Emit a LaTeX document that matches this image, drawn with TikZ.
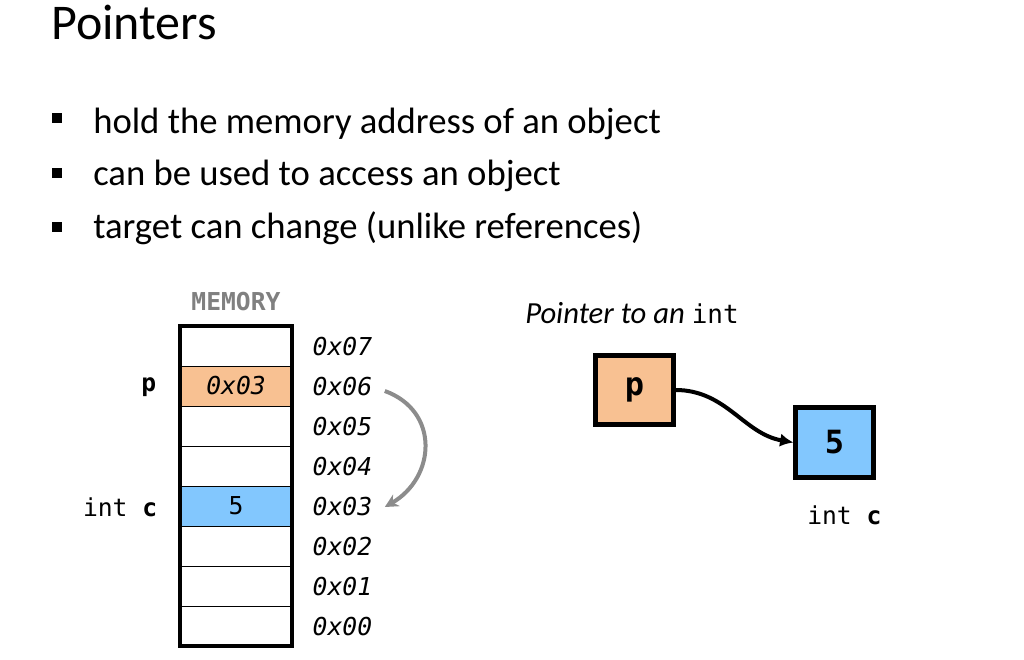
\documentclass[tikz,border=0pt]{standalone}
\usepackage{fontspec}
\setmainfont{Carlito}
\setmonofont{DejaVu Sans Mono}
\usetikzlibrary{arrows.meta}

\definecolor{ptrfill}{HTML}{F8C192}
\definecolor{intfill}{HTML}{82C7FE}

\begin{document}
\begin{tikzpicture}[%
    x=0.75pt, y=0.75pt,
    cell/.style={
        draw,
        line width=0.7pt,
        rectangle,
        minimum width=84pt,
        minimum height=30pt,
        inner sep=0pt,
        font=\ttfamily\fontsize{18.5}{18}\selectfont
        },
    addr/.style={anchor=west, font=\ttfamily\itshape\fontsize{18.5}{18}\selectfont},
    varname/.style={anchor=east, font=\ttfamily\fontsize{18.5}{18}\selectfont},
    bigbox/.style={
        draw,
        line width=3.6pt,
        rectangle,
        minimum width=58pt,
        minimum height=52pt,
        font=\ttfamily\bfseries\fontsize{24}{24}\selectfont},
    bulletline/.style={anchor=base west, font=\fontsize{27.5}{30}\selectfont},
    bulletsq/.style={fill=black, minimum size=7.5pt, inner sep=0pt},
]

\useasboundingbox (0,0) rectangle (1024,-660);

% title and bullets
\node[anchor=base west, inner sep=0pt, font=\fontsize{37.5}{40}\selectfont] (title) at (51,-40) {Pointers};
\foreach \txt [count=\i from 0] in {hold the memory address of an object,
                                     can be used to access an object,
                                     target can change (unlike references)}{
    \node[bulletsq] (b\i) at (57,-118-54.5*\i) {};
    \node[bulletline, inner sep=0pt] (t\i) at (93,-133-52.5*\i) {\txt};
}

% memory column
\node[font=\ttfamily\bfseries\fontsize{18.5}{18}\selectfont, text=black!50] (memlabel) at (236,-302) {MEMORY};
\foreach \i in {0,...,7}{
    \node[cell] (m\i) at (236,-626+40*\i) {};
    \node[addr] (a\i) at (308,-627+40*\i) {0x0\i};
}
\node[cell, fill=ptrfill, font=\ttfamily\itshape\fontsize{18.5}{18}\selectfont] at (m6) {0x03};
\node[cell, fill=intfill] at (m3) {5};
\draw[line width=3pt] (m7.north west) rectangle (m0.south east);

\node[varname, font=\ttfamily\bfseries\fontsize{18.5}{18}\selectfont] (pname) at (161,-387) {p};
\node[varname] (cname) at (162,-507) {int \textbf{c}};

\draw[-{Stealth[length=10pt, width=10pt]}, line width=3pt, black!45]
    ([xshift=6pt,yshift=-3pt]a6.east) to[out=-20, in=30, looseness=1.3] ([xshift=6pt]a3.east);

% pointer to an int
\node[anchor=base west, inner sep=0pt, font=\fontsize{23}{24}\selectfont] (ptrtitle) at (525,-323)
    {\textit{Pointer to an} \texttt{\fontsize{19.5}{20}\selectfont int}};
\node[bigbox, fill=ptrfill] (pbox) at (634.5,-390) {p};
\node[bigbox, fill=intfill] (cbox) at (834.5,-442.5) {5};
\node[anchor=base west, inner sep=0pt, font=\ttfamily\fontsize{18.5}{18}\selectfont] (cbelow) at (807,-524) {int \textbf{c}};

\draw[-{Latex[length=10pt, width=10pt]}, line width=3pt] (pbox.east) to[out=0, in=170] (cbox.west);
\end{tikzpicture}
\end{document}
